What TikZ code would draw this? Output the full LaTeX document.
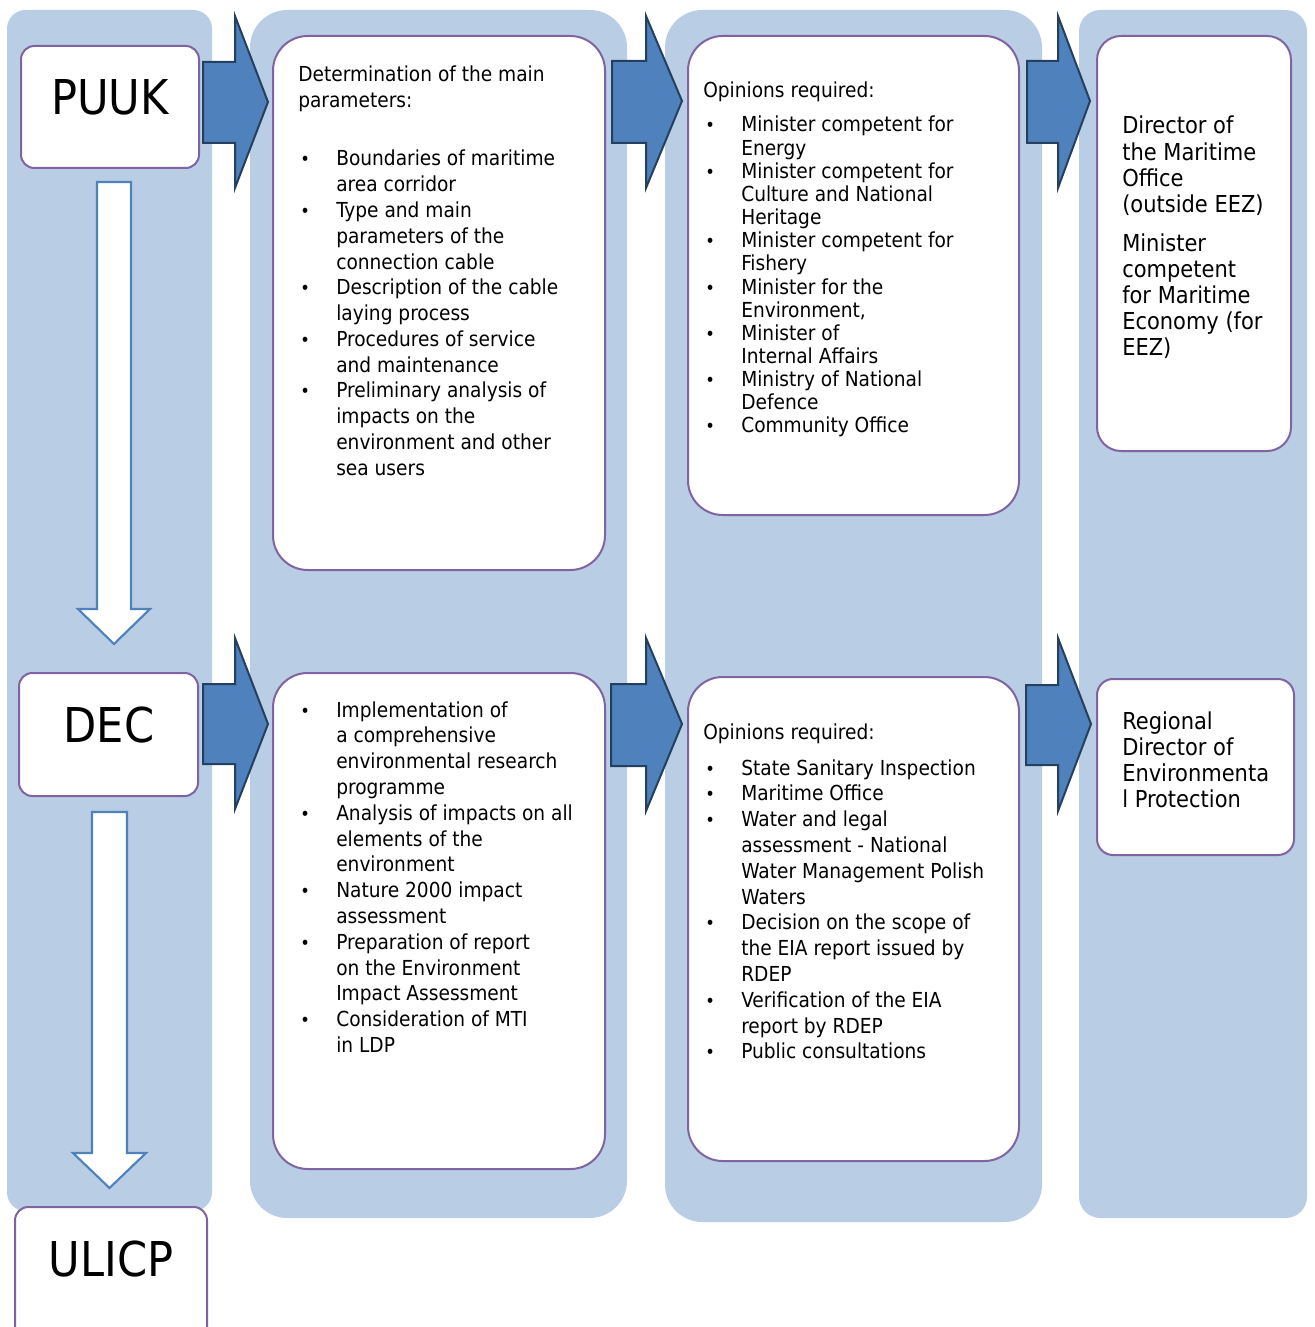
\documentclass[tikz,border=0pt]{standalone}
\usepackage{fontspec}
\setmainfont{DejaVu Sans Condensed}
\definecolor{colbg}{HTML}{B9CDE5}
\definecolor{boxline}{HTML}{8064A2}
\definecolor{arrowfill}{HTML}{4F81BD}
\definecolor{arrowline}{HTML}{25405F}

% one text line per node, placed on its baseline
\newcommand\lineset[6][txt]{%
  \foreach \tline [count=\k] in {#6}
    \node[#1] (#2-\k) at (#3,{#4+(\k-1)*(#5)}) {\tline};}
% bullets on selected lines of a list
\newcommand\bulletset[5]{%
  \foreach \k in {#5}
    \node[bul] (#1-\k) at (#2,{#3+(\k-1)*(#4)}) {\textbullet};}
% white rounded box given by its corners
\newcommand\wbox[6]{%
  \node[wboxstyle, rounded corners=#6,
        minimum width={(#4-#2)*0.75pt}, minimum height={(#5-#3)*0.75pt}]
        (#1) at ({(#2+#4)/2},{(#3+#5)/2}) {};}
% block arrow pointing right
\newcommand\blockarrow[8]{%
  \draw[barrow] (#1,#2) -- (#4,#2) -- (#4,#5) -- (#7,#8) -- (#4,#6)
    -- (#4,#3) -- (#1,#3) -- cycle;}
% hollow arrow pointing down
\newcommand\downarrowshape[7]{%
  \draw[warrow] (#1,#3) -- (#2,#3) -- (#2,#4) -- (#6,#4)
    -- ({(#1+#2)/2},#7) -- (#5,#4) -- (#1,#4) -- cycle;}

\begin{document}
\begin{tikzpicture}[x=0.75pt,y=-0.75pt,
  wboxstyle/.style={draw=boxline, line width=1.5pt, fill=white, inner sep=0pt, outer sep=0pt},
  txt/.style={anchor=base west, inner sep=0pt, font=\fontsize{15.5}{19}\selectfont},
  txtl/.style={anchor=base west, inner sep=0pt, font=\fontsize{17.5}{21}\selectfont},
  bul/.style={anchor=base west, inner sep=0pt, font=\fontsize{13.5}{16}\selectfont},
  big/.style={anchor=base, inner sep=0pt, font=\fontsize{36}{40}\selectfont},
  barrow/.style={fill=arrowfill, draw=arrowline, line width=1.5pt, line join=miter},
  warrow/.style={fill=white, draw=arrowfill, line width=1.6pt, line join=miter}]

\useasboundingbox (0,0) rectangle (1314,1327);

% background columns
\fill[colbg, rounded corners=14pt] (7,10) rectangle (212,1211);
\fill[colbg, rounded corners=28pt] (250,10) rectangle (627,1218);
\fill[colbg, rounded corners=28pt] (665,10) rectangle (1042,1222);
\fill[colbg, rounded corners=16pt] (1079,10) rectangle (1307,1218);

% white boxes
\wbox{puuk}{21}{46}{199}{168}{10pt}
\wbox{dec}{19}{673}{198}{796}{10pt}
\wbox{ulicp}{15}{1207}{207}{1360}{10pt}
\wbox{params}{273}{36}{605}{570}{26pt}
\wbox{opinA}{688}{36}{1019}{515}{26pt}
\wbox{dirA}{1097}{36}{1291}{451}{18pt}
\wbox{study}{273}{673}{605}{1169}{26pt}
\wbox{opinB}{688}{677}{1019}{1161}{26pt}
\wbox{dirB}{1097}{679}{1294}{855}{12pt}

% stage labels
\node[big] (puuk-t) at (110,115) {PUUK};
\node[big] (dec-t) at (109,742) {DEC};
\node[big] (ulicp-t) at (111,1276) {ULICP};

% block arrows between stages
\blockarrow{203}{62}{143}{235}{16}{188}{268}{102}
\blockarrow{612}{61}{143}{646}{16}{188}{682}{101}
\blockarrow{1027}{61}{143}{1058}{16}{188}{1090}{101}
\blockarrow{203}{684}{764}{235}{638}{809}{268}{724}
\blockarrow{611}{684}{766}{646}{638}{811}{682}{724}
\blockarrow{1026}{685}{765}{1058}{638}{811}{1091}{724}

% arrows down the left column
\downarrowshape{97}{131}{182}{609}{78}{150}{644}
\downarrowshape{92}{127}{812}{1153}{73}{146}{1188}

% main parameters
\lineset{pa}{298}{82}{26}{Determination of the main, parameters:}
\bulletset{pb}{300}{166}{25.75}{1,3,6,8,10}
\lineset{pl}{336}{166}{25.75}{Boundaries of maritime, area corridor, Type and main,
  parameters of the, connection cable, Description of the cable, laying process,
  Procedures of service, and maintenance, Preliminary analysis of, impacts on the,
  environment and other, sea users}

% opinions, first stage
\lineset{oa}{703}{98}{0}{Opinions required:}
\bulletset{ob}{705}{132}{23.15}{1,3,6,8,10,12,14}
\lineset{ol}{741}{132}{23.15}{Minister competent for, Energy, Minister competent for,
  Culture and National, Heritage, Minister competent for, Fishery, Minister for the,
  {Environment,}, Minister of, Internal Affairs, Ministry of National, Defence,
  Community Office}

% authority, first stage
\lineset[txtl]{da}{1122}{134}{26.2}{Director of, the Maritime, Office, (outside EEZ)}
\lineset[txtl]{db}{1122}{251}{26.2}{Minister, competent, for Maritime, Economy (for, EEZ)}

% environmental study
\bulletset{sb}{300}{717}{25.8}{1,5,8,10,13}
\lineset{sl}{336}{717}{25.8}{Implementation of, a comprehensive, environmental research,
  programme, Analysis of impacts on all, elements of the, environment,
  Nature 2000 impact, assessment, Preparation of report, on the Environment,
  Impact Assessment, Consideration of MTI, in LDP}

% opinions, second stage
\lineset{qa}{703}{739}{0}{Opinions required:}
\bulletset{qb}{705}{775}{25.8}{1,2,3,7,10,12}
\lineset{ql}{741}{775}{25.8}{State Sanitary Inspection, Maritime Office, Water and legal,
  assessment - National, Water Management Polish, Waters, Decision on the scope of,
  the EIA report issued by, RDEP, Verification of the EIA, report by RDEP,
  Public consultations}

% authority, second stage
\lineset[txtl]{ra}{1122}{729}{26}{Regional, Director of, Environmenta, l Protection}

\end{tikzpicture}
\end{document}
